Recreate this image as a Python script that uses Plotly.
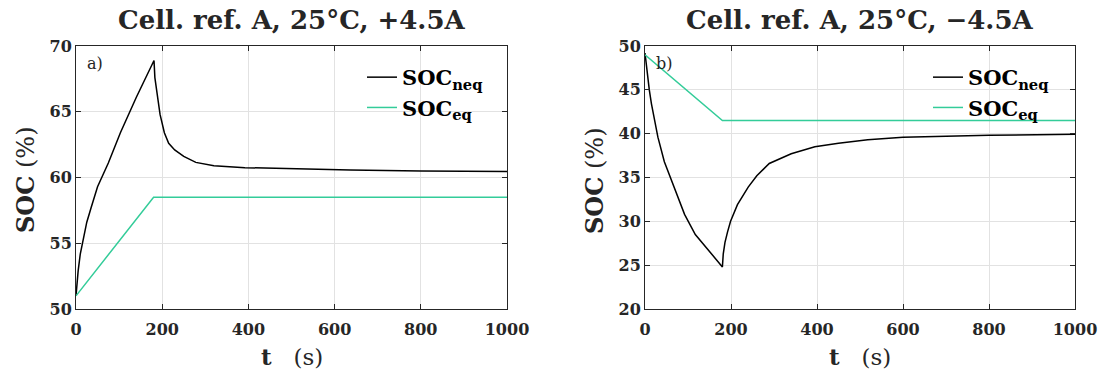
import plotly.graph_objects as go
from plotly.subplots import make_subplots

# panel a) +4.5A
t_neq_a = [0, 2, 5, 10, 17, 25, 35, 50, 75, 103, 140, 181, 183, 188, 195, 205, 215, 229,
           250, 278, 320, 392, 500, 636, 800, 1000]
soc_neq_a = [51.0, 52.0, 52.9, 54.2, 55.4, 56.6, 57.7, 59.3, 61.1, 63.4, 66.1, 68.9, 67.6,
             66.4, 64.8, 63.4, 62.6, 62.1, 61.6, 61.15, 60.9, 60.75, 60.65, 60.57, 60.5, 60.45]
t_eq_a = [0, 180, 1000]
soc_eq_a = [51.0, 58.5, 58.5]

# panel b) -4.5A
t_neq_b = [0, 3, 6, 10, 15, 20, 30, 45, 67, 92, 117, 149, 180, 182, 186, 192, 199, 215,
           240, 260, 289, 340, 395, 450, 518, 600, 700, 800, 1000]
soc_neq_b = [49.2, 47.8, 46.4, 45.0, 43.4, 42.0, 39.6, 36.8, 33.9, 30.8, 28.5, 26.6, 24.8,
             26.3, 27.6, 28.8, 30.0, 31.9, 33.9, 35.2, 36.6, 37.7, 38.5, 38.9, 39.3, 39.6,
             39.75, 39.82, 39.93]
t_eq_b = [0, 180, 1000]
soc_eq_b = [49.0, 41.5, 41.5]

titles = ["Cell. ref. A, 25°C, +4.5A", "Cell. ref. A, 25°C, \u22124.5A"]
panel_tags = ["a)", "b)"]
y_ranges = [[50, 70], [20, 50]]
x_ticks = [0, 200, 400, 600, 800, 1000]

FONT = "DejaVu Serif"
INK = "#262626"
BLACK = "#000000"
GREEN = "#33cc99"

fig = make_subplots(rows=1, cols=2)

fig.add_trace(go.Scatter(x=t_neq_a, y=soc_neq_a, mode="lines", name="<b>SOC<sub>neq</sub></b>",
                         line=dict(color=BLACK, width=1.5), legend="legend"), row=1, col=1)
fig.add_trace(go.Scatter(x=t_eq_a, y=soc_eq_a, mode="lines", name="<b>SOC<sub>eq</sub></b>",
                         line=dict(color=GREEN, width=1.5), legend="legend"), row=1, col=1)
fig.add_trace(go.Scatter(x=t_neq_b, y=soc_neq_b, mode="lines", name="<b>SOC<sub>neq</sub></b>",
                         line=dict(color=BLACK, width=1.5), legend="legend2"), row=1, col=2)
fig.add_trace(go.Scatter(x=t_eq_b, y=soc_eq_b, mode="lines", name="<b>SOC<sub>eq</sub></b>",
                         line=dict(color=GREEN, width=1.5), legend="legend2"), row=1, col=2)

W, H = 1104, 376
x_domains = [[76 / W, 507 / W], [645 / W, 1075 / W]]
y_domain = [1 - 309 / H, 1 - 46 / H]

axis_common = dict(showline=True, linecolor=INK, linewidth=1, mirror="ticks",
                   ticks="inside", ticklen=5, tickcolor=INK, automargin=False,
                   showgrid=True, gridcolor="#e2e2e2", gridwidth=1, zeroline=False,
                   tickfont=dict(family=FONT, size=16, color=INK))

for i in range(2):
    sfx = "" if i == 0 else "2"
    fig.update_xaxes(axis_common, domain=x_domains[i], range=[0, 1000], tickvals=x_ticks,
                     ticktext=["<b>%d</b>" % v for v in x_ticks], ticklabelstandoff=6,
                     row=1, col=i + 1)
    lo, hi = y_ranges[i]
    yt = list(range(lo, hi + 1, 5))
    fig.update_yaxes(axis_common, domain=y_domain, range=[lo, hi], tickvals=yt,
                     ticktext=["<b>%d</b>" % v for v in yt], row=1, col=i + 1)
    xc = (x_domains[i][0] + x_domains[i][1]) / 2
    # title
    fig.add_annotation(text="<b>%s</b>" % titles[i], xref="paper", yref="paper",
                       x=xc, y=1 - 20 / H, xanchor="center", yanchor="middle", showarrow=False,
                       font=dict(family=FONT, size=26, color=INK))
    # x axis title
    fig.add_annotation(text="<b>t</b>&nbsp;&nbsp;&nbsp;(s)", xref="paper", yref="paper",
                       x=xc, y=1 - 356 / H, xanchor="center", yanchor="middle", showarrow=False,
                       font=dict(family=FONT, size=23, color=INK))
    # y axis title
    fig.add_annotation(text="<b>SOC</b> (%)", xref="paper", yref="paper", textangle=-90,
                       x=(x_domains[i][0] * W - 51) / W, y=1 - 180 / H,
                       xanchor="center", yanchor="middle", showarrow=False,
                       font=dict(family=FONT, size=24, color=INK))
    # panel tag
    fig.add_annotation(text=panel_tags[i], xref="x%s domain" % sfx, yref="paper",
                       x=0.022, y=1 - 63 / H, xanchor="left", yanchor="middle", showarrow=False,
                       font=dict(family=FONT, size=16, color=INK))

legend_common = dict(bgcolor="rgba(0,0,0,0)", borderwidth=0, xanchor="left", yanchor="top",
                     font=dict(family=FONT, size=21, color=BLACK), tracegroupgap=0)
fig.update_layout(
    width=W, height=H,
    margin=dict(l=0, r=0, t=0, b=0),
    plot_bgcolor="white", paper_bgcolor="white",
    legend=dict(legend_common, x=362 / W, y=1 - 57 / H),
    legend2=dict(legend_common, x=928 / W, y=1 - 57 / H),
    showlegend=True,
)
fig.update_traces(showlegend=True)

fig.write_html("out.html", config={"displayModeBar": False},
               post_script="document.body.style.margin='0px';")
